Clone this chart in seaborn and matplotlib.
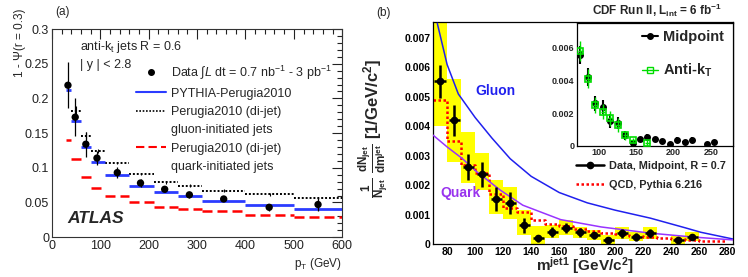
import numpy as np
import matplotlib
matplotlib.use('Agg')
import matplotlib.pyplot as plt
import seaborn as sns
from matplotlib.lines import Line2D
from matplotlib.ticker import MultipleLocator, FuncFormatter

# ---- panel (a): ATLAS jet shapes ----
pt_lo = [30, 40, 60, 80, 110, 160, 210, 260, 310, 400, 500]
pt_hi = [40, 60, 80, 110, 160, 210, 260, 310, 400, 500, 600]
pt_data = [33, 48, 70, 93, 135, 183, 233, 284, 355, 449, 550]
psi_data = [0.219, 0.173, 0.134, 0.114, 0.093, 0.078, 0.069, 0.061, 0.055, 0.043, 0.047]
psi_err = [0.033, 0.027, 0.018, 0.010, 0.008, 0.006, 0.004, 0.004, 0.003, 0.005, 0.010]
psi_pythia = [0.212, 0.168, 0.130, 0.109, 0.090, 0.074, 0.065, 0.059, 0.052, 0.046, 0.040]
psi_gluon = [np.nan, 0.182, 0.146, 0.124, 0.107, 0.091, 0.079, 0.074, 0.067, 0.062, 0.056]
psi_gluon_err = [np.nan, 0.007, 0.005, 0.003, 0.002, 0.002, 0.002, 0.002, 0.002, 0.002, 0.002]
psi_quark = [0.140, 0.113, 0.087, 0.071, 0.059, 0.051, 0.043, 0.040, 0.0375, 0.032, 0.029]

# ---- panel (b): CDF jet mass ----
m_x = [75, 85, 95, 105, 115, 125, 135, 145, 155, 165, 175, 185, 195, 205, 215, 225, 245, 255]
m_y = [0.00553, 0.0042, 0.00261, 0.00237, 0.00153, 0.00139, 0.00064, 0.0002, 0.0004, 0.00054,
       0.0004, 0.0003, 0.00013, 0.00037, 0.00024, 0.00037, 0.00014, 0.00024]
m_err = [0.00055, 0.00053, 0.00045, 0.00043, 0.00042, 0.00038, 0.00025, 0.00012, 0.00017, 0.00017,
         0.00015, 0.00012, 0.00008, 0.00015, 0.00012, 0.00015, 0.00008, 0.0001]
sys_lo = [0.0040, 0.0028, 0.00207, 0.00183, 0.00102, 0.00085, 0.0003, 0.0, 0.0002, 0.0003,
          0.00022, 0.00015, 0.0, 0.00018, 0.0001, 0.00018, 0.0, 0.0001]
sys_hi = [0.0080, 0.0056, 0.0038, 0.0031, 0.00217, 0.00193, 0.00115, 0.0006, 0.00065, 0.0008,
          0.00058, 0.00048, 0.0003, 0.00058, 0.0004, 0.00058, 0.00028, 0.0004]
antikt_x = [75, 85, 95, 105, 115, 125, 135, 145, 165]
antikt_y = [0.0058, 0.0041, 0.0025, 0.0021, 0.0017, 0.0013, 0.00065, 0.00036, 0.00018]
qcd_edges = [70, 80, 90, 100, 110, 120, 130, 140, 150, 160, 170, 180, 190, 200, 210, 220, 230,
             240, 250, 260, 270, 280]
qcd_vals = [0.0049, 0.0035, 0.0027, 0.0024, 0.0017, 0.00122, 0.00108, 0.0008, 0.00068, 0.0006,
            0.0005, 0.00045, 0.00038, 0.00033, 0.00028, 0.00025, 0.0002, 0.00018, 0.00015,
            0.00012, 0.0001]
gluon_x = [73, 80, 88, 100, 112, 125, 140, 160, 180, 200, 225, 250, 261, 284]
gluon_y = [0.0075, 0.0061, 0.0051, 0.0043, 0.0036, 0.0029, 0.0023, 0.00175, 0.0014, 0.00115,
           0.00088, 0.00055, 0.00040, 0.00017]
quark_x = [70, 80, 91, 100, 118, 134, 161, 190, 225, 255, 284]
quark_y = [0.0037, 0.0033, 0.0029, 0.0025, 0.00183, 0.00132, 0.00083, 0.00058, 0.00037, 0.00024, 0.00014]

sns.set_theme(style='white')
plt.rcParams['font.family'] = ['Liberation Sans', 'DejaVu Sans']
plt.rcParams['mathtext.fontset'] = 'custom'
plt.rcParams['mathtext.rm'] = 'Liberation Sans'
plt.rcParams['mathtext.it'] = 'Liberation Sans:italic'
plt.rcParams['mathtext.bf'] = 'Liberation Sans:bold'

fig = plt.figure(figsize=(7.48, 2.77), dpi=100)
ax_a = fig.add_axes([0.0695, 0.144, 0.388, 0.751])
ax_b = fig.add_axes([0.579, 0.119, 0.401, 0.802])
ax_in = fig.add_axes([0.771, 0.473, 0.209, 0.444])

# Panel (a)
ax_a.hlines(psi_quark, pt_lo, pt_hi, color='red', lw=1.8, linestyles=(0, (4, 2)), zorder=2)
ax_a.hlines(psi_gluon, pt_lo, pt_hi, color='black', lw=1.4, linestyles=(0, (1, 1)), zorder=2)
gl_c = [(l + h) / 2 for l, h in zip(pt_lo, pt_hi)]
ax_a.errorbar(gl_c, psi_gluon, yerr=psi_gluon_err, fmt='none', ecolor='black', elinewidth=0.8, zorder=2)
ax_a.hlines(psi_pythia, pt_lo, pt_hi, color='#2b3cff', lw=2, zorder=3)
ax_a.errorbar(pt_data, psi_data, yerr=psi_err, fmt='none', ecolor='black', elinewidth=0.9, zorder=4)
sns.scatterplot(x=pt_data, y=psi_data, color='black', s=28, edgecolor='none', ax=ax_a, zorder=5)

ax_a.set_xlim(0, 600)
ax_a.set_ylim(0, 0.3)
ax_a.xaxis.set_major_locator(MultipleLocator(100))
ax_a.xaxis.set_minor_locator(MultipleLocator(20))
ax_a.yaxis.set_major_locator(MultipleLocator(0.05))
ax_a.yaxis.set_minor_locator(MultipleLocator(0.01))
ax_a.yaxis.set_major_formatter(FuncFormatter(lambda v, p: '0' if abs(v) < 1e-9 else f'{v:g}'))
ax_a.tick_params(which='both', direction='in', top=True, right=True, labelsize=9, colors='#222222', pad=2)
ax_a.tick_params(which='major', length=7, width=0.8)
ax_a.tick_params(which='minor', length=3.5, width=0.8)
for s in ax_a.spines.values():
    s.set_color('#333333')
    s.set_linewidth(0.8)
ax_a.set_ylabel('1 - Ψ(r = 0.3)', fontsize=8.5, loc='top')
ax_a.yaxis.set_label_coords(-0.09, 1.10)
ax_a.set_xlabel(r'p$_\mathrm{T}$ (GeV)', fontsize=8.5, loc='right')
ax_a.xaxis.set_label_coords(1.0, -0.09)

ax_a.text(0.097, 0.913, r'anti-k$_\mathrm{t}$ jets R = 0.6', transform=ax_a.transAxes, fontsize=9, va='center')
ax_a.text(0.097, 0.827, '| y | < 2.8', transform=ax_a.transAxes, fontsize=9, va='center')
ax_a.text(0.052, 0.091, 'ATLAS', transform=ax_a.transAxes, fontsize=12.5, fontweight='bold',
          fontstyle='italic', va='center')

blank = Line2D([], [], lw=0)
leg_a = [Line2D([], [], color='black', marker='o', ms=4, lw=0),
         Line2D([], [], color='#2b3cff', lw=1.5),
         Line2D([], [], color='black', lw=1.2, ls=(0, (1, 1))), blank,
         Line2D([], [], color='red', lw=1.5, ls=(0, (4, 2))), blank]
lab_a = [r'Data $\int L$ dt = 0.7 nb$^{-1}$ - 3 pb$^{-1}$', 'PYTHIA-Perugia2010',
         'Perugia2010 (di-jet)', 'gluon-initiated jets', 'Perugia2010 (di-jet)', 'quark-initiated jets']
ax_a.legend(leg_a, lab_a, loc='upper left', bbox_to_anchor=(0.29, 0.835), frameon=False, fontsize=9,
            handlelength=2.4, handletextpad=0.4, labelspacing=0.5, borderaxespad=0, borderpad=0)

# Panel (b)
heights = [h - l for h, l in zip(sys_hi, sys_lo)]
ax_b.bar(m_x, heights, bottom=sys_lo, width=10, color='#ffff00', linewidth=0, zorder=1)
ax_b.step(qcd_edges, qcd_vals + [qcd_vals[-1]], where='post', color='red', lw=1.8, ls=(0, (1, 1)), zorder=2)
sns.lineplot(x=gluon_x, y=gluon_y, color='#2020ee', lw=1.1, ax=ax_b, estimator=None, sort=False, zorder=3)
sns.lineplot(x=quark_x, y=quark_y, color='#9933ff', lw=1.1, ax=ax_b, estimator=None, sort=False, zorder=3)
ax_b.errorbar(m_x, m_y, yerr=m_err, xerr=4, fmt='o', color='black', ms=4.5, elinewidth=1.8, zorder=4)

ax_b.set_xlim(70, 284)
ax_b.set_ylim(0, 0.00755)
ax_b.xaxis.set_major_locator(MultipleLocator(20))
ax_b.xaxis.set_minor_locator(MultipleLocator(5))
ax_b.yaxis.set_major_locator(MultipleLocator(0.001))
ax_b.yaxis.set_minor_locator(MultipleLocator(0.0002))
ax_b.yaxis.set_major_formatter(FuncFormatter(lambda v, p: '0' if abs(v) < 1e-9 else f'{v:.3f}'))
ax_b.tick_params(which='both', direction='in', labelsize=7.5, colors='black', pad=2)
ax_b.tick_params(which='major', length=7, width=0.9)
ax_b.tick_params(which='minor', length=3.5, width=0.8)
for lb in ax_b.get_xticklabels() + ax_b.get_yticklabels():
    lb.set_fontweight('bold')
for s in ax_b.spines.values():
    s.set_color('black')
    s.set_linewidth(0.9)
ax_b.set_ylabel(r'$\mathbf{\frac{1}{N_{jet}}\ \frac{dN_{jet}}{dm^{jet}}}$ [1/GeV/c$^{\mathbf{2}}$]',
                fontsize=12, fontweight='bold')
ax_b.yaxis.set_label_coords(-0.14, 0.52)
ax_b.set_xlabel('')
ax_b.text(100.5, 0.0052, 'Gluon', color='#2020ee', fontsize=10, fontweight='bold', va='center')
ax_b.text(75, 0.00173, 'Quark', color='#9933ee', fontsize=10, fontweight='bold', va='center')

leg_b = [Line2D([], [], color='black', marker='o', ms=4.5, lw=1.8),
         Line2D([], [], color='red', lw=1.8, ls=(0, (1, 1)))]
ax_b.legend(leg_b, ['Data, Midpoint, R = 0.7', 'QCD, Pythia 6.216'], loc='upper left',
            bbox_to_anchor=(0.475, 0.375), frameon=False, prop={'weight': 'bold', 'size': 7.8},
            handlelength=2.6, handletextpad=0.5, labelspacing=0.85, borderaxespad=0, borderpad=0)

# inset
ax_in.set_facecolor('white')
ax_in.errorbar(m_x, m_y, yerr=m_err, xerr=3, fmt='o', color='black', ms=4, elinewidth=1.5, zorder=3)
ax_in.errorbar(antikt_x, antikt_y, yerr=[e * 1.1 for e in m_err[:len(antikt_x)]], xerr=3, fmt='s',
               color='#00dd00', mfc='none', ms=5, mew=1.2, elinewidth=1.0, zorder=4)
ax_in.set_xlim(70, 280)
ax_in.set_ylim(0, 0.0075)
ax_in.xaxis.set_major_locator(MultipleLocator(50))
ax_in.xaxis.set_minor_locator(MultipleLocator(10))
ax_in.yaxis.set_major_locator(MultipleLocator(0.002))
ax_in.yaxis.set_minor_locator(MultipleLocator(0.0005))
ax_in.yaxis.set_major_formatter(FuncFormatter(lambda v, p: '0' if abs(v) < 1e-9 else f'{v:.3f}'))
ax_in.tick_params(which='both', direction='in', labelsize=6.5, pad=1.5)
ax_in.tick_params(which='major', length=5, width=0.8)
ax_in.tick_params(which='minor', length=2.5, width=0.7)
for lb in ax_in.get_xticklabels() + ax_in.get_yticklabels():
    lb.set_fontweight('bold')
for s in ax_in.spines.values():
    s.set_color('black')
    s.set_linewidth(0.9)
leg_in = [Line2D([], [], color='black', marker='o', ms=4, lw=1.5),
          Line2D([], [], color='#00dd00', marker='s', mfc='none', ms=5, lw=1.0)]
ax_in.legend(leg_in, ['Midpoint', r'Anti-k$_\mathbf{T}$'], loc='upper left', bbox_to_anchor=(0.42, 0.94),
             frameon=False, prop={'weight': 'bold', 'size': 10.5}, handlelength=1.1, handletextpad=0.3,
             labelspacing=1.2, borderaxespad=0, borderpad=0)

fig.text(585 / 748, 1 - 266 / 277, r'm$^{\mathbf{jet1}}$ [GeV/c$^{\mathbf{2}}$]', fontsize=11,
         fontweight='bold', ha='center', va='center')
fig.text(657 / 748, 1 - 10 / 277, r'CDF Run II, L$_{\mathbf{int}}$ = 6 fb$^{\mathbf{-1}}$', fontsize=8.5,
         fontweight='bold', ha='center', va='center')
fig.text(63 / 748, 1 - 12 / 277, '(a)', fontsize=8.5, ha='center', va='center')
fig.text(383 / 748, 1 - 13 / 277, '(b)', fontsize=8.5, ha='center', va='center')

fig.savefig('out.png', dpi=100)
